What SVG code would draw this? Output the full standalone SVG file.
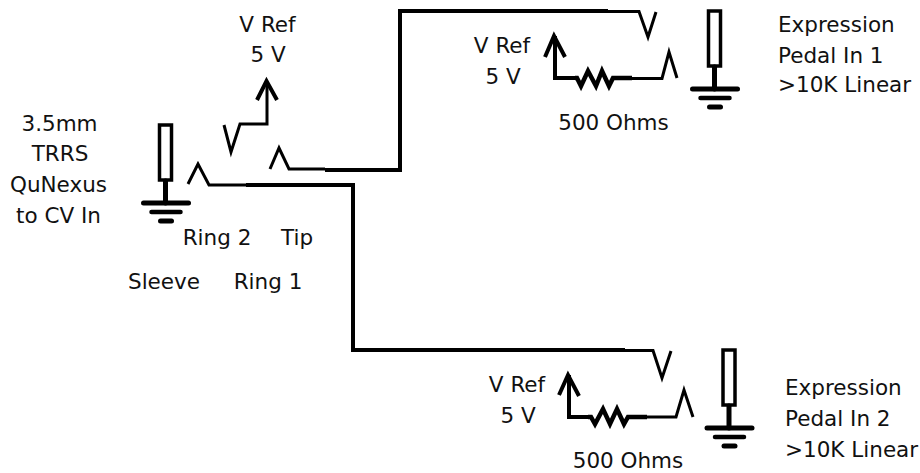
<svg xmlns="http://www.w3.org/2000/svg" width="920" height="473" viewBox="0 0 920 473">
<style>
text{font-family:"DejaVu Sans","Open Sans",sans-serif;font-size:21.500px;fill:#111;text-anchor:middle}
.l{text-anchor:start}
.w{fill:none;stroke:#000;stroke-width:3;stroke-linejoin:miter}
.t{fill:none;stroke:#000;stroke-width:4;stroke-linejoin:miter}
.r{fill:none;stroke:#000;stroke-width:4.500;stroke-linejoin:miter}
.b{fill:#fff;stroke:#000;stroke-width:3.500}
.g{stroke:#000;stroke-linecap:round;fill:none}
</style>
<defs>
<g id="jack">
<rect class="b" x="-6" y="-56" width="12" height="55"/>
<path class="g" stroke-width="5" d="M0 0V22"/>
<path class="g" stroke-width="5" d="M-22 22H23"/>
<path class="g" stroke-width="4.500" d="M-14 31H15"/>
<path class="g" stroke-width="5" d="M-5 40H6"/>
</g>
</defs>
<g id="connectors">
<path class="w" d="M188 184L198 164L209 185H246"/>
<path class="t" d="M246 185H353V350H625"/>
<path class="w" d="M625 350.500H653L662 378L671 351"/>
<path class="w" d="M224 125L231 152L240 124H267V82"/>
<path class="t" d="M257 100L266.500 81L277 100"/>
<path class="w" d="M270 169L279 148L289 169H325"/>
<path class="t" d="M325 170H400V11H608"/>
<path class="w" d="M608 11.500H639L648 37L656 12"/>
<path class="t" d="M545 57L554 36L565 57M555 36V78H577"/>
<path class="r" d="M575 78H577L581 86L588 71L596 86L602 71L609 86L613 78H632"/>
<path class="w" d="M632 78.500H662L669 52L677 78"/>
<path class="t" d="M559 395L568 375L579 396M569 375V417H590"/>
<path class="r" d="M588 417H591L595 424L603 409L610 424L617 409L624 424L628 417H647"/>
<path class="w" d="M647 417H676L684 390L693 417"/>
</g>
<g id="jack-left"><use href="#jack" transform="translate(165.500 181)"/></g>
<g id="jack-1"><use href="#jack" transform="translate(714.500 67)"/></g>
<g id="jack-2"><use href="#jack" transform="translate(729 406)"/></g>
<g id="labels">
<text x="59.500" y="131">3.5mm</text>
<text x="60" y="161">TRRS</text>
<text x="58.500" y="192">QuNexus</text>
<text x="58.500" y="223">to CV In</text>
<text x="267.500" y="32">V Ref</text>
<text x="268" y="62">5 V</text>
<text x="217" y="245">Ring 2</text>
<text x="297" y="245">Tip</text>
<text x="164" y="289">Sleeve</text>
<text x="268" y="289">Ring 1</text>
<text x="502" y="53">V Ref</text>
<text x="503" y="84">5 V</text>
<text x="613.500" y="130">500 Ohms</text>
<text class="l" x="778" y="32">Expression</text>
<text class="l" x="778" y="63">Pedal In 1</text>
<text class="l" x="778" y="92">&gt;10K Linear</text>
<text x="517" y="392">V Ref</text>
<text x="518" y="423">5 V</text>
<text x="628" y="468">500 Ohms</text>
<text class="l" x="785" y="395">Expression</text>
<text class="l" x="785" y="426">Pedal In 2</text>
<text class="l" x="785" y="457">&gt;10K Linear</text>
</g>
</svg>
